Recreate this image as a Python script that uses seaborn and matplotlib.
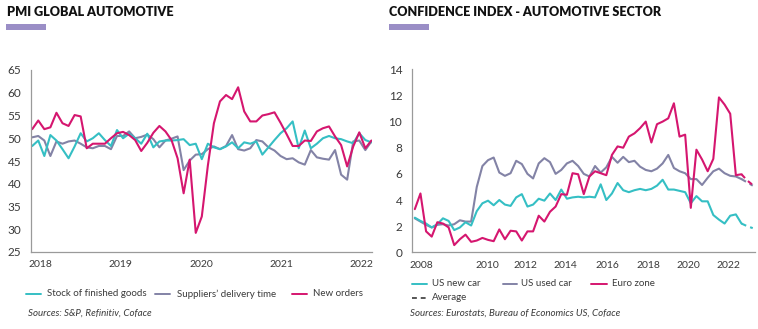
import numpy as np
import pandas as pd
import matplotlib
matplotlib.use("Agg")
import matplotlib.pyplot as plt
import seaborn as sns
from matplotlib.lines import Line2D
from matplotlib.patches import Rectangle

# ---------------- data: PMI global automotive (monthly index) ----------------
pmi_stock = [48.3, 49.5, 46.1, 50.7, 49.5, 47.6, 45.6, 48.2, 51.1, 49.3,
             50.0, 51.1, 49.6, 48.3, 51.8, 50.0, 51.0, 50.0, 48.8, 51.0,
             48.0, 49.3, 49.5, 49.5, 49.6, 49.8, 48.5, 48.8, 45.4, 48.8,
             48.0, 47.6, 48.2, 49.1, 47.8, 49.1, 48.8, 49.3, 46.4, 48.0,
             49.6, 51.1, 52.2, 53.7, 47.8, 51.7, 47.8, 48.8, 50.0, 50.5,
             50.0, 49.8, 49.3, 48.9, 51.1, 49.6, 49.1]
pmi_suppliers = [50.2, 50.5, 49.5, 46.1, 49.3, 48.8, 49.3, 49.5, 48.8, 48.0,
                 47.8, 48.3, 48.3, 47.6, 50.5, 50.5, 51.5, 50.0, 50.3, 50.8,
                 49.8, 48.0, 49.5, 49.9, 50.4, 43.0, 45.1, 46.4, 46.5, 47.6,
                 48.2, 47.6, 48.3, 50.7, 47.6, 47.3, 47.8, 49.6, 49.3, 48.0,
                 47.3, 46.1, 45.4, 45.6, 44.7, 44.2, 47.4, 45.8, 45.5, 45.3,
                 47.4, 42.0, 40.9, 49.3, 49.5, 47.4, 49.3]
pmi_new_orders = [52.0, 53.9, 52.0, 52.4, 55.6, 53.3, 52.7, 55.1, 54.8, 47.8,
                  48.8, 48.8, 48.8, 50.0, 51.1, 51.4, 50.7, 49.6, 47.2, 49.0,
                  51.2, 52.7, 51.5, 49.6, 45.6, 37.9, 45.3, 29.2, 32.8, 44.0,
                  53.3, 58.1, 59.5, 58.6, 61.2, 55.9, 53.7, 53.7, 55.0, 55.3,
                  55.7, 53.4, 50.9, 48.3, 48.3, 49.5, 49.4, 51.5, 52.2, 52.6,
                  50.4, 48.5, 43.8, 48.2, 51.3, 47.8, 49.5]
pmi_tick_labels = ["2018", "2019", "2020", "2021", "2022"]
pmi_series_names = ["Stock of finished goods", "Suppliers\u2019 delivery time", "New orders"]

# ---------------- data: confidence index automotive ----------------
conf_us_new = [2.65, 2.4, 2.2, 1.9, 2.15, 2.6, 2.4, 1.7, 1.9, 2.3,
               2.05, 3.15, 3.75, 3.95, 3.6, 4.0, 3.65, 3.55, 4.2, 4.45,
               3.5, 3.65, 4.1, 3.95, 4.5, 4.0, 4.8, 4.1, 4.2, 4.25,
               4.2, 4.25, 4.2, 5.2, 4.0, 4.5, 5.3, 4.75, 4.6, 4.75,
               4.85, 4.75, 4.85, 5.1, 5.55, 4.8, 4.8, 4.7, 4.6, 3.75,
               4.3, 3.9, 3.9, 2.85, 2.5, 2.2, 2.8, 2.9, 2.2, 2.0, 1.85]
conf_us_used = [2.6, 2.35, 2.1, 1.9, 2.1, 2.15, 2.05, 2.15, 2.45, 2.35,
                2.35, 5.0, 6.6, 7.05, 7.25, 6.1, 5.85, 6.05, 7.0, 6.75,
                6.0, 5.65, 6.8, 7.2, 6.9, 6.0, 6.3, 6.8, 7.0, 6.6,
                6.0, 5.8, 6.6, 6.1, 6.5, 7.3, 6.85, 7.3, 6.9, 7.0,
                6.55, 6.3, 6.2, 6.4, 6.8, 7.45, 6.45, 6.2, 6.05, 5.6,
                5.6, 5.15, 5.7, 6.2, 6.4, 6.05, 5.85, 5.8, 5.6, 5.35, 5.1]
conf_euro = [3.3, 4.5, 1.6, 1.2, 2.3, 2.2, 1.9, 0.55, 1.0, 1.35,
             0.8, 0.9, 1.1, 0.95, 0.85, 1.75, 1.0, 1.65, 1.6, 0.9,
             1.6, 1.6, 2.8, 2.35, 3.1, 3.5, 4.45, 4.4, 6.05, 5.97,
             4.45, 5.8, 6.2, 6.05, 5.9, 7.45, 8.1, 8.0, 8.85, 9.1,
             9.5, 10.0, 8.4, 9.8, 10.0, 10.25, 11.4, 8.85, 9.0, 3.4,
             7.85, 7.1, 6.2, 7.15, 11.85, 11.3, 10.6, 5.9, 5.97, 5.5, 5.15]
conf_tick_labels = ["2008", "2010", "2012", "2014", "2016", "2018", "2020", "2022"]
conf_series_names = ["US new car", "US used car", "Euro zone"]
conf_n_projected = 2  # last segments drawn dashed

# ---------------- styling / layout ----------------
TEAL = "#35bfc4"
GREY = "#8383a6"
PINK = "#d5166f"
BAR = "#9a8ec6"
TXT = "#3a3a3a"

pmi_tick_pos = [1.43, 14.6, 27.9, 41.1, 54.3]
conf_tick_pos = [1.1, 12.9, 19.7, 26.8, 34.2, 41.4, 48.5, 55.6]

sns.set_theme(style="white")
plt.rcParams["font.family"] = ["Lato", "DejaVu Sans"]

W, H = 758, 329
fig = plt.figure(figsize=(W / 100, H / 100), dpi=100)


def fx(px):
    return px / W


def fy(py):
    return 1 - py / H


def style_axes(ax):
    for s in ["top", "right"]:
        ax.spines[s].set_visible(False)
    for s in ["left", "bottom"]:
        ax.spines[s].set_color("#9a9a9a")
        ax.spines[s].set_linewidth(0.9)
    ax.tick_params(axis="y", direction="out", length=4, width=0.8, color="#9a9a9a",
                   labelcolor=TXT, labelsize=8.5, pad=3)
    ax.tick_params(axis="x", length=0, labelcolor=TXT, labelsize=7.5, pad=6)
    ax.set_xlabel("")
    ax.set_ylabel("")
    ax.grid(False)


# ---------------- left chart ----------------
axL = fig.add_axes([fx(31), fy(252), fx(372) - fx(31), fy(70) - fy(252)])
idxL = np.arange(len(pmi_new_orders))
dfL = pd.DataFrame({
    "idx": np.tile(idxL, 3),
    "value": pmi_suppliers + pmi_stock + pmi_new_orders,
    "series": [pmi_series_names[1]] * len(idxL) + [pmi_series_names[0]] * len(idxL)
              + [pmi_series_names[2]] * len(idxL),
})
paletteL = {pmi_series_names[0]: TEAL, pmi_series_names[1]: GREY, pmi_series_names[2]: PINK}
sns.lineplot(data=dfL, x="idx", y="value", hue="series", palette=paletteL,
             hue_order=[pmi_series_names[1], pmi_series_names[0], pmi_series_names[2]],
             linewidth=1.5, legend=False, ax=axL)
axL.set_ylim(25, 65)
axL.set_yticks(np.arange(25, 66, 5))
axL.set_xlim(-0.2, len(idxL) - 0.9)
axL.set_xticks(pmi_tick_pos)
axL.set_xticklabels(pmi_tick_labels)
style_axes(axL)

# ---------------- right chart ----------------
axR = fig.add_axes([fx(412), fy(252.3), fx(755) - fx(412), fy(69.3) - fy(252.3)])
nR = len(conf_euro)
idxR = np.arange(nR)
cut = nR - 1 - conf_n_projected
rows = []
for name, vals in zip(conf_series_names, [conf_us_new, conf_us_used, conf_euro]):
    for i, v in enumerate(vals):
        if i <= cut:
            rows.append((i, v, name, "actual"))
        if i >= cut:
            rows.append((i, v, name, "proj"))
dfR = pd.DataFrame(rows, columns=["idx", "value", "series", "kind"])
paletteR = {conf_series_names[0]: TEAL, conf_series_names[1]: GREY, conf_series_names[2]: PINK}
order = [conf_series_names[1], conf_series_names[0], conf_series_names[2]]
sns.lineplot(data=dfR[dfR.kind == "actual"], x="idx", y="value", hue="series",
             palette=paletteR, hue_order=order, linewidth=1.5, legend=False, ax=axR)
sns.lineplot(data=dfR[dfR.kind == "proj"], x="idx", y="value", hue="series",
             palette=paletteR, hue_order=order, linewidth=1.5, legend=False, ax=axR,
             linestyle=(0, (2.5, 2)))
axR.set_ylim(0, 14)
axR.set_yticks(np.arange(0, 15, 2))
axR.set_xlim(-0.5, nR - 0.6)
axR.set_xticks(conf_tick_pos)
axR.set_xticklabels(conf_tick_labels)
style_axes(axR)

# ---------------- titles ----------------
fig.text(fx(7), fy(12.5), "PMI GLOBAL AUTOMOTIVE", fontsize=9.1, fontweight="heavy",
         color="#111111", va="center", ha="left")
fig.text(fx(389), fy(12.5), "CONFIDENCE INDEX - AUTOMOTIVE SECTOR", fontsize=9.1,
         fontweight="heavy", color="#111111", va="center", ha="left")
for x0 in (6, 389):
    fig.add_artist(Rectangle((fx(x0), fy(30)), fx(40), fy(24) - fy(30),
                             transform=fig.transFigure, color=BAR, lw=0))


# ---------------- legends ----------------
def leg_line(x0, x1, y, color, ls="-"):
    fig.add_artist(Line2D([fx(x0), fx(x1)], [fy(y), fy(y)], transform=fig.transFigure,
                          color=color, lw=1.4, ls=ls))


def leg_text(x, y, s, style="normal"):
    fig.text(fx(x), fy(y), s, fontsize=7, color=TXT, va="center", ha="left", style=style)


yl = 294
leg_line(26, 41, yl, TEAL); leg_text(47, yl, pmi_series_names[0])
leg_line(155, 170, yl, GREY); leg_text(177, yl, pmi_series_names[1])
leg_line(292, 307, yl, PINK); leg_text(313, yl, pmi_series_names[2])
leg_text(28, 313, "Sources: S&P, Refinitiv, Coface", style="italic")

yr = 284
leg_line(412, 427, yr, TEAL); leg_text(432, yr, conf_series_names[0])
leg_line(503, 517, yr, GREY); leg_text(521, yr, conf_series_names[1])
leg_line(591, 607, yr, PINK); leg_text(612, yr, conf_series_names[2])
leg_line(412, 427, 298, "#555555", ls=(0, (2.5, 2))); leg_text(432, 298, "Average")
leg_text(410, 313, "Sources: Eurostats, Bureau of Economics US, Coface", style="italic")

fig.savefig("out.png", dpi=100)
